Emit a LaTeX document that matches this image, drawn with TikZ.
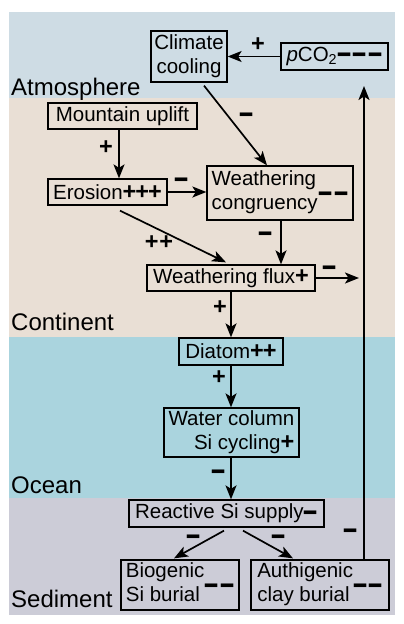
\documentclass[tikz,border=0pt]{standalone}
\usepackage{fontspec}
\usepackage{graphicx}
\setmainfont{Liberation Sans}
\usetikzlibrary{arrows.meta}
\definecolor{atmc}{RGB}{206,220,228}
\definecolor{contc}{RGB}{233,223,213}
\definecolor{oceac}{RGB}{170,212,222}
\definecolor{sedic}{RGB}{204,204,215}
\newcommand\mysm{\raisebox{-3.3pt}{\scalebox{1.15}[1.65]{\fontsize{22}{24}\selectfont\bfseries –}}}
\newcommand\mylm{\smash{\raisebox{-9.4pt}{\scalebox{1.15}[1.65]{\fontsize{22}{24}\selectfont\bfseries –}}}}
\newcommand\mysp{{\fontsize{23.5}{24}\selectfont\bfseries +}}
\newcommand\mysmm{\raisebox{-2.5pt}{\mysm\kern1.5pt\mysm}}
\begin{document}
\begin{tikzpicture}[x=1pt,y=-1pt,
  box/.style={draw, line width=1.3pt, inner sep=0pt, font=\fontsize{20.5}{24}\selectfont},
  arr/.style={-{Stealth[length=14pt,width=11pt,inset=3.5pt]}, line width=1.7pt},
  sgn/.style={inner sep=0pt},
  reg/.style={font=\fontsize{24}{28}\selectfont, inner sep=0pt, anchor=base west}]
\useasboundingbox (0,0) rectangle (404,624);
\fill[atmc] (9,12) rectangle (395,98);
\fill[contc] (9,98) rectangle (395,337);
\fill[oceac] (9,337) rectangle (395,498);
\fill[sedic] (9,498) rectangle (395,615);
% region labels
\node[reg] (ratm) at (11,95) {Atmosphere};
\node[reg] (rcon) at (11,330) {Continent};
\node[reg] (roce) at (11,493) {Ocean};
\node[reg] (rsed) at (11,607) {Sediment};
% boxes
\node[box, minimum width=76pt, minimum height=51pt] (cool) at (189,56.5)
  {\begin{tabular}{@{}c@{}}Climate\\cooling\end{tabular}};
\node[box, minimum width=107pt, minimum height=27pt] (pco) at (334.5,56.5)
  {\textit{p}CO\textsubscript{2}\mysm\kern1.5pt\mysm\kern1.5pt\mysm};
\node[box, minimum width=149pt, minimum height=26pt] (mtn) at (122.5,116) {Mountain uplift};
\node[box, minimum width=119pt, minimum height=26pt] (ero) at (107.5,192)
  {Erosion\mysp\kern-1pt\mysp\kern-1pt\mysp};
\node[box, minimum width=146pt, minimum height=54pt] (wc) at (280,193)
  {\begin{tabular}{@{}l@{}}Weathering\\congruency\end{tabular}\kern1pt\mysmm};
\node[box, minimum width=168pt, minimum height=26pt] (wf) at (231,278) {Weathering flux\mysp};
\node[box, minimum width=104pt, minimum height=27pt] (dia) at (231,351.5) {Diatom\mysp\kern-1pt\mysp};
\node[box, minimum width=135pt, minimum height=49pt] (wcs) at (231.5,432.5)
  {\begin{tabular}{@{}r@{}}Water column\\Si cycling\mysp\end{tabular}};
\node[box, minimum width=195pt, minimum height=27pt] (rsi) at (226.5,513.5) {Reactive Si supply\mysm};
\node[box, minimum width=118pt, minimum height=50pt] (bio) at (180,585)
  {\begin{tabular}{@{}l@{}}Biogenic\\Si burial\end{tabular}\mysmm};
\node[box, minimum width=138pt, minimum height=50pt] (auth) at (320,585)
  {\begin{tabular}{@{}l@{}}Authigenic\\clay burial\end{tabular}\mysmm};
% coordinates
\coordinate (wfend) at (359,278);
\coordinate (vtop) at (364,86);
% connectors
\draw[arr] (pco) -- (cool);
\draw[arr] ([xshift=15pt,yshift=-3pt]cool.south) -- ([xshift=-13pt]wc.north);
\draw[arr] ([xshift=-3.5pt]mtn.south) -- ([xshift=11.5pt]ero.north);
\draw[arr] (ero.east) -- (ero.east -| wc.west);
\draw[arr] ([xshift=12.5pt,yshift=-5pt]ero.south) -- ([xshift=-5pt,yshift=2pt]wf.north);
\draw[arr] ([xshift=1pt]wc.south) -- ([xshift=1pt]wc.south |- wf.north);
\draw[arr] (wf.east) -- (wfend);
\draw[arr] (auth.north -| vtop) -- (vtop);
\draw[arr] (wf.south) -- (dia.north);
\draw[arr] (dia.south) -- (dia.south |- wcs.north);
\draw[arr] ([xshift=-0.5pt]wcs.south) -- ([xshift=-0.5pt]wcs.south |- rsi.north);
\draw[arr] ([xshift=-2.5pt,yshift=-3pt]rsi.south) -- ([xshift=-6pt,yshift=1pt]bio.north);
\draw[arr] ([xshift=16.5pt,yshift=-3pt]rsi.south) -- ([xshift=-27pt,yshift=1pt]auth.north);
% connector labels
\node[sgn] (s1) at (258,45) {\mysp};
\node[sgn] (s2) at (247,115) {\mylm};
\node[sgn] (s3) at (106,148) {\mysp};
\node[sgn] (s4) at (182,180) {\mylm};
\node[sgn] (s5) at (159,243) {\mysp\kern1pt\mysp};
\node[sgn] (s6) at (266,234) {\mylm};
\node[sgn] (s7) at (330,268) {\mylm};
\node[sgn] (s8) at (220,308) {\mysp};
\node[sgn] (s9) at (219,378) {\mysp};
\node[sgn] (s10) at (219,472) {\mylm};
\node[sgn] (s11) at (194,537) {\mylm};
\node[sgn] (s12) at (279,537) {\mylm};
\node[sgn] (s13) at (351,531) {\mylm};
\end{tikzpicture}
\end{document}
